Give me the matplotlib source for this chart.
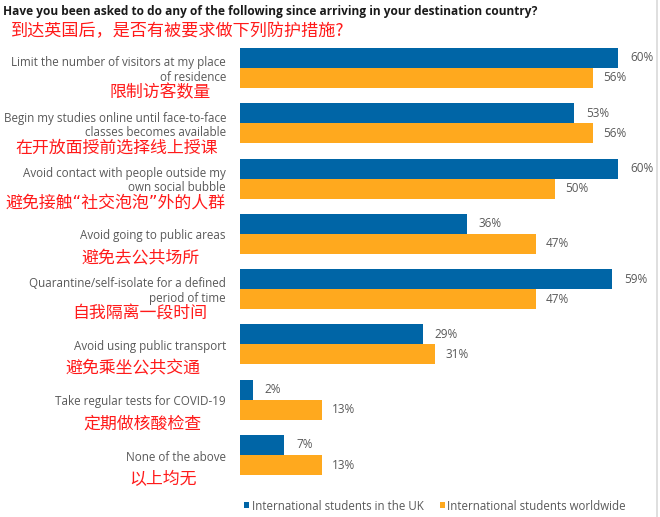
import matplotlib.pyplot as plt
import numpy as np

# Survey data
labels_en = [
    'Limit the number of visitors at my place\nof residence',
    'Begin my studies online until face-to-face\nclasses becomes available',
    'Avoid contact with people outside my\nown social bubble',
    'Avoid going to public areas',
    'Quarantine/self-isolate for a defined\nperiod of time',
    'Avoid using public transport',
    'Take regular tests for COVID-19',
    'None of the above',
]
labels_cn = [
    '限制访客数量',
    '在开放面授前选择线上授课',
    '避免接触“社交泡泡”外的人群',
    '避免去公共场所',
    '自我隔离一段时间',
    '避免乘坐公共交通',
    '定期做核酸检查',
    '以上均无',
]
uk_vals = [60, 53, 60, 36, 59, 29, 2, 7]
world_vals = [56, 56, 50, 47, 47, 31, 13, 13]
series_names = ['International students in the UK', 'International students worldwide']

title_en = 'Have you been asked to do any of the following since arriving in your destination country?'
title_cn = '到达英国后，是否有被要求做下列防护措施?'

BLUE = '#0065a6'
ORANGE = '#ffa91e'
GRAY = '#595959'
RED = '#ff1a1a'
EN_FONT = ['Open Sans', 'DejaVu Sans']
CN_FONT = ['Noto Sans CJK SC', 'DejaVu Sans']
# narrow latin quotes first, CJK glyphs fall through to Noto
CN_LABEL_FONT = ['DejaVu Sans', 'Noto Sans CJK SC']

W, H = 660, 517
fig = plt.figure(figsize=(W / 100, H / 100), dpi=100)

# axes placed in pixel terms
ax_l, ax_r, ax_t, ax_b = 240, 650, 40, 490
ax = fig.add_axes([ax_l / W, 1 - ax_b / H, (ax_r - ax_l) / W, (ax_b - ax_t) / H])

y = np.arange(len(uk_vals))
bh = 0.362
ax.barh(y - bh / 2, uk_vals, height=bh, color=BLUE, label=series_names[0])
ax.barh(y + bh / 2, world_vals, height=bh, color=ORANGE, label=series_names[1])

ax.set_xlim(0, (ax_r - ax_l) / 6.3)
ax.set_ylim(7.633, -0.506)
ax.set_xticks([])
ax.set_yticks([])
for s in ax.spines.values():
    s.set_visible(False)

# value labels
for yi, v in zip(y, uk_vals):
    ax.annotate(f'{v}%', (v, yi - bh / 2), xytext=(12, 0), textcoords='offset pixels',
                va='center', ha='left', fontsize=8.5, color=GRAY, family=EN_FONT)
for yi, v in zip(y, world_vals):
    ax.annotate(f'{v}%', (v, yi + bh / 2), xytext=(10, 0), textcoords='offset pixels',
                va='center', ha='left', fontsize=8.5, color=GRAY, family=EN_FONT)

# category labels, english then chinese underneath
cn_right = [211, 218, 226, 200, 207, 201, 202, 197]
for yi, en, cn, xr in zip(y, labels_en, labels_cn, cn_right):
    ax.annotate(en, (0, yi), xytext=(-14, -2), textcoords='offset pixels',
                va='center', ha='right', fontsize=8.4, color=GRAY, family=EN_FONT,
                linespacing=1.15, annotation_clip=False)
    ax.annotate(cn, (0, yi), xytext=(xr - ax_l, -24), textcoords='offset pixels',
                va='center', ha='right', fontsize=12.2, color=RED, family=CN_LABEL_FONT,
                annotation_clip=False)

fig.text(3 / W, 1 - 11 / H, title_en, fontsize=8.55, fontweight='bold', color='#1a1a1a',
         family=EN_FONT, va='center', ha='left')
fig.text(11 / W, 1 - 31 / H, title_cn, fontsize=12.3, color=RED, family=CN_FONT,
         va='center', ha='left')

leg = fig.legend(loc='center', bbox_to_anchor=(435 / W, 1 - 506 / H), ncol=2, frameon=False,
                 handlelength=0.45, handleheight=0.45, handletextpad=0.2, columnspacing=1.4,
                 prop={'family': EN_FONT, 'size': 8.3})
for t in leg.get_texts():
    t.set_color(GRAY)

# thin frame line from the screenshot
fig.add_artist(plt.Line2D([657 / W, 657 / W], [0, 1], color='#d9d9d9', lw=1.2))

fig.savefig('out.png', dpi=100)
